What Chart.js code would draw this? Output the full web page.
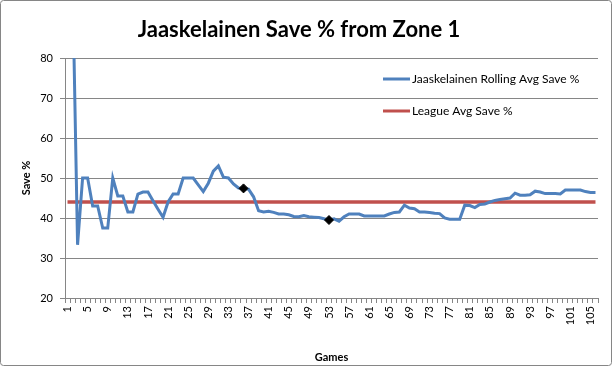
<!DOCTYPE html>
<html>
<head>
<meta charset="utf-8">
<script src="https://cdn.jsdelivr.net/npm/chart.js@4.4.0/dist/chart.umd.min.js"></script>
<style>
  body { margin: 0; background: #fff; }
  #wrap { width: 612px; height: 366px; position: relative; }
</style>
</head>
<body>
<div id="wrap"><canvas id="GraphiqueSave" width="612" height="366"></canvas></div>
<script>
var games = [
    1, 2, 3, 4, 5, 6, 7, 8, 9, 10, 11, 12, 13, 14, 15, 16, 17, 18, 19, 20,
    21, 22, 23, 24, 25, 26, 27, 28, 29, 30, 31, 32, 33, 34, 35, 36, 37, 38, 39, 40,
    41, 42, 43, 44, 45, 46, 47, 48, 49, 50, 51, 52, 53, 54, 55, 56, 57, 58, 59, 60,
    61, 62, 63, 64, 65, 66, 67, 68, 69, 70, 71, 72, 73, 74, 75, 76, 77, 78, 79, 80,
    81, 82, 83, 84, 85, 86, 87, 88, 89, 90, 91, 92, 93, 94, 95, 96, 97, 98, 99, 100,
    101, 102, 103, 104, 105, 106
];

var rollingSave = [
    100, 100, 33.3, 50, 50, 43, 43, 37.5, 37.5, 50,
    45.5, 45.5, 41.5, 41.5, 46, 46.5, 46.5, 44.3, 42.2, 40.2,
    44, 46, 46, 50, 50, 50, 48.3, 46.6, 48.7, 51.7,
    53, 50.2, 50, 48.5, 47.5, 47.4, 47.2, 45.3, 41.8, 41.5,
    41.7, 41.4, 41, 41, 40.8, 40.4, 40.3, 40.6, 40.3, 40.2,
    40.1, 39.8, 39.5, 39.8, 39.2, 40.3, 41, 41, 41, 40.5,
    40.5, 40.5, 40.5, 40.5, 41, 41.4, 41.5, 43.2, 42.5, 42.3,
    41.5, 41.5, 41.4, 41.2, 41.1, 40, 39.7, 39.7, 39.7, 43.2,
    43.1, 42.6, 43.4, 43.5, 44, 44.4, 44.6, 44.8, 45, 46.2,
    45.7, 45.7, 45.8, 46.7, 46.5, 46.1, 46.1, 46.1, 46, 47,
    47, 47, 47, 46.6, 46.4, 46.4
];

var leagueSave = [
    44, 44, 44, 44, 44, 44, 44, 44, 44, 44, 44, 44, 44, 44, 44, 44, 44, 44, 44, 44,
    44, 44, 44, 44, 44, 44, 44, 44, 44, 44, 44, 44, 44, 44, 44, 44, 44, 44, 44, 44,
    44, 44, 44, 44, 44, 44, 44, 44, 44, 44, 44, 44, 44, 44, 44, 44, 44, 44, 44, 44,
    44, 44, 44, 44, 44, 44, 44, 44, 44, 44, 44, 44, 44, 44, 44, 44, 44, 44, 44, 44,
    44, 44, 44, 44, 44, 44, 44, 44, 44, 44, 44, 44, 44, 44, 44, 44, 44, 44, 44, 44,
    44, 44, 44, 44, 44, 44
];

// games with a black diamond marker
var markedGames = [36, 53];

// x labels shown every 4 games
var tickGames = [1, 5, 9, 13, 17, 21, 25, 29, 33, 37, 41, 45, 49, 53, 57, 61, 65, 69, 73, 77, 81, 85, 89, 93, 97, 101, 105];

var yTicks = [20, 30, 40, 50, 60, 70, 80];

var seriesLabels = ["Jaaskelainen Rolling Avg Save %", "League Avg Save %"];

var police = "Lato, 'Open Sans', sans-serif";
var gris = "#868686";

function GetRayons() {
    var r = [];
    for (var i = 0; i < games.length; i++) {
        r.push(markedGames.indexOf(games[i]) >= 0 ? 4.5 : 0);
    }
    return r;
}

// frame round the whole chart
var cadre = {
    id: 'cadre',
    afterDraw: function (chart) {
        var c = chart.ctx;
        c.save();
        c.strokeStyle = gris;
        c.lineWidth = 1;
        c.beginPath();
        c.roundRect(0.5, 0.5, chart.width - 1, chart.height - 1, 3);
        c.stroke();
        c.restore();
    }
};

// legend drawn inside the plot, Excel style
var legende = {
    id: 'legende',
    afterDatasetsDraw: function (chart) {
        var c = chart.ctx;
        var x = 383, y = 79;
        c.save();
        c.font = "12px " + police;
        c.textBaseline = "middle";
        chart.data.datasets.forEach(function (ds, i) {
            var yy = y + i * 32;
            c.strokeStyle = ds.borderColor;
            c.lineWidth = 3;
            c.beginPath();
            c.moveTo(x, yy);
            c.lineTo(x + 27, yy);
            c.stroke();
            c.fillStyle = "#000";
            c.fillText(ds.label, x + 29, yy);
        });
        c.restore();
    }
};

var ctx = document.getElementById('GraphiqueSave').getContext('2d');

var graphique = new Chart(ctx, {
    type: 'line',
    data: {
        labels: games,
        datasets: [
            {
                label: seriesLabels[0],
                data: rollingSave,
                borderColor: "#4F81BD",
                borderWidth: 3,
                tension: 0,
                pointRadius: GetRayons(),
                pointHoverRadius: 0,
                pointStyle: 'rectRot',
                pointBackgroundColor: "#000",
                pointBorderColor: "#000",
                pointBorderWidth: 1
            },
            {
                label: seriesLabels[1],
                data: leagueSave,
                borderColor: "#C0504D",
                borderWidth: 3.5,
                pointRadius: 0
            }
        ]
    },
    options: {
        responsive: false,
        animation: false,
        layout: { padding: { left: 0, right: 14, top: 0, bottom: 0 } },
        plugins: {
            legend: { display: false },
            tooltip: { enabled: false },
            title: {
                display: true,
                text: "Jaaskelainen Save % from Zone 1",
                color: "#000",
                font: { family: police, size: 22, weight: 'bold', lineHeight: 1.2 },
                padding: { top: 17, bottom: 14.6 }
            }
        },
        scales: {
            x: {
                offset: true,
                grid: {
                    display: true,
                    drawOnChartArea: false,
                    drawTicks: true,
                    tickLength: 5,
                    offset: true,
                    color: gris
                },
                border: { display: true, color: gris, width: 1 },
                ticks: {
                    autoSkip: false,
                    minRotation: 90,
                    maxRotation: 90,
                    padding: 3,
                    color: "#000",
                    font: { family: police, size: 11 },
                    callback: function (val, index) {
                        var g = games[index];
                        return tickGames.indexOf(g) >= 0 ? String(g) : '';
                    }
                },
                title: {
                    display: true,
                    text: "Games",
                    color: "#000",
                    font: { family: police, size: 11, weight: 'bold', lineHeight: 1.2 },
                    padding: { top: 0, bottom: 1.5 }
                },
                afterFit: function (scale) { scale.height = 68; }
            },
            y: {
                min: yTicks[0],
                max: yTicks[yTicks.length - 1],
                grid: { color: gris, tickLength: 5, lineWidth: 1 },
                border: { display: true, color: gris, width: 1 },
                ticks: {
                    stepSize: 10,
                    padding: 7,
                    color: "#000",
                    font: { family: police, size: 11 }
                },
                title: {
                    display: true,
                    text: "Save %",
                    color: "#000",
                    font: { family: police, size: 11, weight: 'bold', lineHeight: 1.2 },
                    padding: { top: 20, bottom: 0 }
                },
                afterFit: function (scale) { scale.width = 65; }
            }
        }
    },
    plugins: [cadre, legende]
});
</script>
</body>
</html>
